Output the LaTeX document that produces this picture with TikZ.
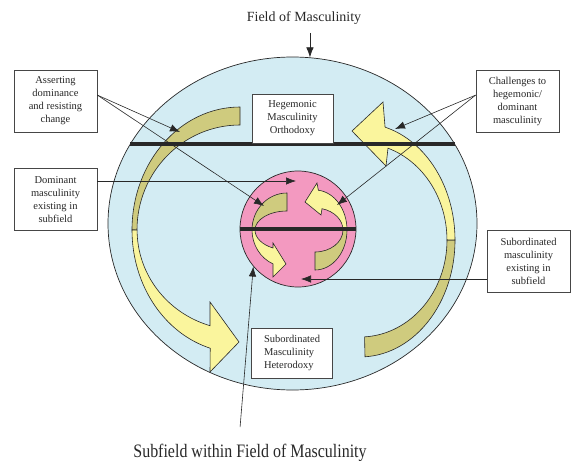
\documentclass[tikz,border=0pt]{standalone}
\usepackage{fontspec}
\setmainfont{Liberation Serif}
\newfontfamily\stretchfont[FakeStretch=0.84]{Liberation Serif}
\usetikzlibrary{shapes}
\usetikzlibrary{arrows.meta}
\usetikzlibrary{positioning}

\definecolor{fieldblue}{RGB}{211,236,243}
\definecolor{subpink}{RGB}{243,153,192}
\definecolor{olive}{RGB}{207,203,126}
\definecolor{paleyellow}{RGB}{250,245,157}
\definecolor{inkgray}{RGB}{40,40,40}
\definecolor{boxgray}{RGB}{70,70,70}

\tikzset{
  labelbox/.style={draw=boxgray, line width=0.8pt, fill=white, minimum width=83pt, minimum height=62pt, inner sep=1pt, align=center, text=inkgray, font=\fontsize{10.5}{13}\selectfont},
  fieldbox/.style={labelbox, minimum width=81pt, minimum height=49pt},
  pointer/.style={draw=inkgray, line width=0.6pt, -{Latex[length=10pt,width=7.5pt]}},
  ribbon/.style={draw=inkgray, line width=0.6pt},
  divider/.style={draw=inkgray, line width=3.3pt}
}

\begin{document}
\begin{tikzpicture}[x=1pt,y=-1pt]
\useasboundingbox (0,0) rectangle (571,461);

\node[ellipse, draw=inkgray, line width=0.7pt, fill=fieldblue, minimum width=369pt, minimum height=333pt, inner sep=0pt] (field) at (292.5,223.5) {};

% big arrows
\filldraw[ribbon, fill=olive] (240,107) arc[start angle=270, end angle=180, x radius=108, y radius=123] -- (137,230) arc[start angle=180, end angle=270, x radius=103, y radius=105] -- cycle;
\filldraw[ribbon, fill=paleyellow] (132,230) arc[start angle=180, end angle=106, x radius=108, y radius=123] -- (210,372) -- (239,342) -- (210,302) -- (210,325.7) arc[start angle=107, end angle=180, x radius=103, y radius=100] -- cycle;

\filldraw[ribbon, fill=olive] (365,356.8) arc[start angle=87, end angle=0, x radius=95, y radius=117] -- (447,240) arc[start angle=0, end angle=87, x radius=87, y radius=97] -- cycle;
\filldraw[ribbon, fill=paleyellow] (455,240) arc[start angle=0, end angle=-74.7, x radius=95, y radius=117] -- (383,102) -- (352,131) -- (386,166) -- (388,148.2) arc[start angle=-71.2, end angle=0, x radius=87, y radius=97] -- cycle;

\draw[divider] (130,144) -- (455,144);

\node[fieldbox] (hegemonic) at (292.5,118.5) {Hegemonic\\Masculinity\\Orthodoxy};
\node[fieldbox, align=left, minimum height=50pt] (heterodoxy) at (292,353) {Subordinated\\Masculinity\\Heterodoxy};

\node[circle, draw=inkgray, line width=0.7pt, fill=subpink, minimum size=116pt, inner sep=0pt] (subfield) at (298,229) {};

% small arrows
\filldraw[ribbon, fill=olive] (287,193) arc[start angle=270, end angle=180, x radius=35, y radius=37] -- (255,230) arc[start angle=180, end angle=270, x radius=32, y radius=19] -- cycle;
\filldraw[ribbon, fill=paleyellow] (252,230) arc[start angle=180, end angle=113.6, x radius=35, y radius=37] -- (273,277) -- (286,264) -- (273,243) -- (273,248) arc[start angle=115.9, end angle=180, x radius=32, y radius=20] -- cycle;

\filldraw[ribbon, fill=olive] (315,270) arc[start angle=90, end angle=0, x radius=32, y radius=40] -- (343,230) arc[start angle=0, end angle=90, x radius=28, y radius=22] -- cycle;
\filldraw[ribbon, fill=paleyellow] (347,230) arc[start angle=0, end angle=-84, x radius=32, y radius=40] -- (317,183) -- (305,202) -- (321,215) -- (322,208.7) arc[start angle=-75.5, end angle=0, x radius=28, y radius=22] -- cycle;

\draw[divider] (subfield.west) -- (subfield.east);

\node[labelbox] (assert) at (55.5,101) {Asserting\\dominance\\and resisting\\change};
\node[labelbox, below=36pt of assert] (dominant) {Dominant\\masculinity\\existing in\\subfield};
\node[labelbox] (challenge) at (517.5,101) {Challenges to\\hegemonic/\\dominant\\masculinity};
\node[labelbox] (subexist) at (528.5,261) {Subordinated\\masculinity\\existing in\\subfield};

\node[text=inkgray, font=\fontsize{14}{14}\selectfont] (fieldtitle) at (304,18) {Field of Masculinity};
\node[anchor=base, text=inkgray, font=\stretchfont\fontsize{19}{19}\selectfont] (subfieldcap) at (250,457) {Subfield within Field of Masculinity};

\coordinate (assertouter) at (180,132);
\coordinate (assertinner) at (264,206);
\coordinate (challengeouter) at (395,129);
\coordinate (challengeinner) at (337,205);
\coordinate (domtip) at (296,181);
\coordinate (subtip) at (301,279);

\draw[pointer] (assert.8) -- (assertouter);
\draw[pointer] (assert.8) -- (assertinner);
\draw[pointer] (dominant.east |- domtip) -- (domtip);
\draw[pointer] (challenge.172) -- (challengeouter);
\draw[pointer] (challenge.172) -- (challengeinner);
\draw[pointer] (subexist.west |- subtip) -- (subtip);
\draw[pointer, shorten <=5pt] (fieldtitle.south -| field.84) -- (field.84);
\draw[pointer, shorten <=13pt] ([xshift=-11pt]subfieldcap.north) -- (subfield.220);

\end{tikzpicture}
\end{document}
